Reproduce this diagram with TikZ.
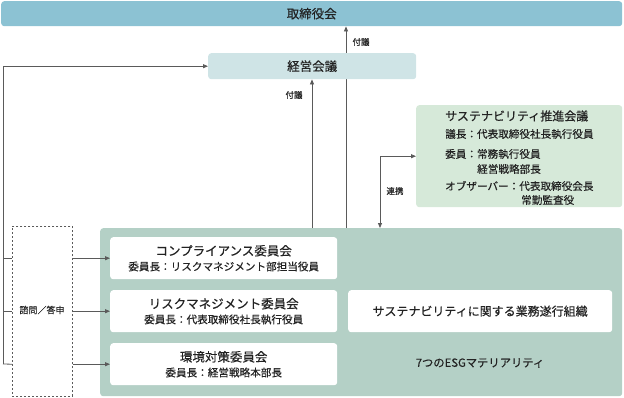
\documentclass[tikz,border=0pt]{standalone}
\usepackage{fontspec}
\setmainfont{Noto Sans CJK JP}[FakeBold=0.35]
\usetikzlibrary{arrows.meta,backgrounds}
\definecolor{board}{HTML}{8CC2D3}
\definecolor{keiei}{HTML}{CFE4E6}
\definecolor{sus}{HTML}{D6E9D9}
\definecolor{big}{HTML}{B4D0C6}
\definecolor{ln}{HTML}{5A5A5A}
\definecolor{tx}{HTML}{222222}
\newcommand\subfnt{\fontsize{10.6}{12}\selectfont}
\tikzset{
  boxbase/.style={rounded corners=3pt, inner sep=0pt, anchor=north west, text=tx},
  whitebox/.style={boxbase, fill=white, align=center, font=\fontsize{12.5}{14}\selectfont},
  lbl/.style={font=\fontsize{8.5}{10}\selectfont, text=tx, inner sep=1pt},
  arr/.style={draw=ln, line width=0.8pt, -{Triangle[length=5pt,width=4pt]}},
  conn/.style={draw=ln, line width=0.8pt},
  sub/.style={font=\subfnt}
}
\begin{document}
\begin{tikzpicture}[x=1pt,y=-1pt]
\useasboundingbox (0,0) rectangle (624,397);
% boxes
\node[boxbase, fill=board, minimum width=621, minimum height=25, font=\fontsize{12.5}{14}\selectfont] (board) at (1,1) {取締役会};
\node[boxbase, fill=keiei, minimum width=208, minimum height=26, font=\fontsize{12.5}{14}\selectfont] (keiei) at (208,53) {経営会議};
\node[boxbase, fill=sus, minimum width=206, minimum height=102] (sus) at (416,105) {};
\node[boxbase, fill=big, minimum width=522, minimum height=168] (big) at (100,228) {};
\node[boxbase, draw=ln, line width=0.6pt, dash pattern=on 2pt off 2pt, rounded corners=0pt, minimum width=60, minimum height=170] (dash) at (12,226) {};
\node[lbl, font=\fontsize{9}{11}\selectfont] (shimon) at (42,310) {諮問／答申};
% committee boxes
\node[whitebox, minimum width=227, minimum height=42] (c1) at (110,237) {コンプライアンス委員会\\[1pt]{\subfnt 委員長：リスクマネジメント部担当役員}};
\node[whitebox, minimum width=227, minimum height=42] (c2) at (110,290) {リスクマネジメント委員会\\[1pt]{\subfnt 委員長：代表取締役社長執行役員}};
\node[whitebox, minimum width=227, minimum height=42] (c3) at (110,343) {環境対策委員会\\[1pt]{\subfnt 委員長：経営戦略本部長}};
\node[whitebox, minimum width=264, minimum height=42, font=\fontsize{12}{14}\selectfont] (org) at (348,290) {サステナビリティに関する業務遂行組織};
\node[font=\fontsize{11.3}{13}\selectfont, text=tx] (esg) at (480,363) {7つのESGマテリアリティ};
% sustainability text
\node[font=\fontsize{12}{14}\selectfont, text=tx, anchor=west, inner sep=0pt] (st) at (445,116) {サステナビリティ推進会議};
\node[sub, text=tx, anchor=west, inner sep=0pt] (s1) at (445,134) {議長：代表取締役社長執行役員};
\node[sub, text=tx, anchor=west, inner sep=0pt] (s2) at (445,154) {委員：常務執行役員};
\node[sub, text=tx, anchor=west, inner sep=0pt] (s3) at (477,169) {経営戦略部長};
\node[sub, text=tx, anchor=west, inner sep=0pt] (s4) at (445,186) {オブザーバー：代表取締役会長};
\node[sub, text=tx, anchor=west, inner sep=0pt] (s5) at (521,200) {常勤監査役};
% helper coordinates
\coordinate (xa) at (346,0);
\coordinate (xb) at (312,0);
\coordinate (xc) at (380,0);
\coordinate (lbot) at (3,364);
\begin{scope}[on background layer]
\draw[arr] (big.north -| xa) -- (board.south -| xa);
\end{scope}
\draw[arr] (big.north -| xb) -- (keiei.south -| xb);
\draw[conn, {Triangle[length=5pt,width=4pt]}-{Triangle[length=5pt,width=4pt]}] (big.north -| xc) |- (sus.west);
\draw[arr] (lbot) |- (keiei.west);
\draw[conn] (lbot |- c1.west) -- (dash.west |- c1.west);
\draw[conn] (lbot |- c2.west) -- (dash.west |- c2.west);
\draw[conn] (lbot) -- (dash.west |- c3.west);
\draw[arr] (dash.east |- c1.west) -- (c1.west);
\draw[arr] (dash.east |- c2.west) -- (c2.west);
\draw[arr] (dash.east |- c3.west) -- (c3.west);
% labels
\node[lbl] (l1) at (361,42) {付議};
\node[lbl] (l2) at (294,95) {付議};
\node[lbl] (l3) at (395,191) {連携};
\end{tikzpicture}
\end{document}
